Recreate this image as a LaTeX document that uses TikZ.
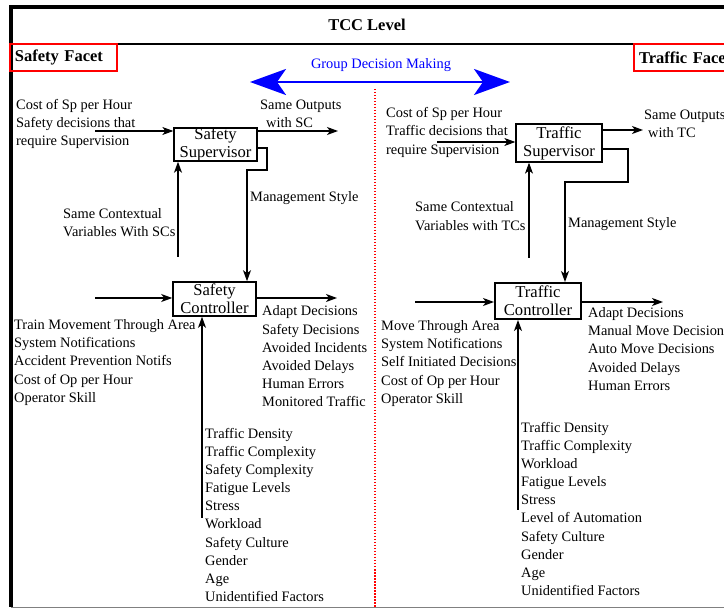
\documentclass[tikz,border=0pt]{standalone}
\usepackage{fontspec}
\setmainfont{Liberation Serif}
\usetikzlibrary{arrows.meta,calc}
\tikzset{
  body/.style={font=\fontsize{14.4}{18}\selectfont, inner sep=0pt, anchor=base west},
  unit/.style={draw, line width=1.3pt, font=\fontsize{16.6}{18}\selectfont, align=center, inner sep=0pt},
  flow/.style={line width=1.1pt, -{Stealth[length=11pt,width=8pt,inset=3pt]}},
  facet/.style={draw=red, line width=2pt, font=\fontsize{16.5}{18}\selectfont\bfseries,
    anchor=west, minimum height=27pt, inner xsep=5pt, inner ysep=0pt, text width=97pt, align=left},
}
\begin{document}
\begin{tikzpicture}[x=1pt,y=-1pt]
\useasboundingbox (0,0) rectangle (724,609);
\clip (0,0) rectangle (724,609);

% frame and title band
\draw[line width=3.5pt] (9,7) -- (740,7);
\draw[line width=4pt] (11,5.25) -- (11,607);
\draw[line width=2pt] (11,44) -- (740,44);
\draw[gray, line width=1pt] (11,607.5) -- (740,607.5);
\node[font=\fontsize{16.5}{18}\selectfont\bfseries, inner sep=0pt] (title) at (367,25) {TCC Level};

% facet labels
\node[facet] (sfacet) at (9,57.5) {Safety Facet};
\node[facet] (tfacet) at (633,57.5) {Traffic Facet};

% group decision making
\coordinate (gl) at (250,82);
\coordinate (gr) at (510,82);
\draw[blue, line width=2.6pt, {Stealth[length=36pt,width=26pt,inset=9pt]}-{Stealth[length=36pt,width=26pt,inset=9pt]}] (gl) -- (gr);
\node[blue, font=\fontsize{14.4}{18}\selectfont, inner sep=0pt] (gdm) at (381,65) {Group Decision Making};

% divider between facets
\coordinate (dtop) at (375,89);
\coordinate (dbot) at (375,607);
\draw[red, line width=1.5pt, dash pattern=on 1.5pt off 1.5pt] (dtop) -- (dbot);

% ---------------- safety facet ----------------
\node[unit, minimum width=83pt, minimum height=33pt] (ss) at (215.5,144.5) {Safety\\Supervisor};
\node[unit, line width=1.6pt, minimum width=83pt, minimum height=34pt] (sc) at (214.5,299) {Safety\\Controller};

\foreach \t [count=\i] in {Cost of Sp per Hour, Safety decisions that, require Supervision}
  \node[body] (ssin\i) at (16,{109.5+(\i-1)*18}) {\t};
\node[body] (ssout1) at (260,109.5) {Same Outputs};
\node[body] (ssout2) at (266,127.5) {with SC};
\node[body] (sctx1) at (63,218.5) {Same Contextual};
\node[body] (sctx2) at (63,236.5) {Variables With SCs};
\node[body] (sms) at (250,201.5) {Management Style};

\foreach \t [count=\i] in {Train Movement Through Area, System Notifications, Accident Prevention Notifs, Cost of Op per Hour, Operator Skill}
  \node[body] (scin\i) at (14,{329.5+(\i-1)*18.2}) {\t};
\foreach \t [count=\i] in {Adapt Decisions, Safety Decisions, Avoided Incidents, Avoided Delays, Human Errors, Monitored Traffic}
  \node[body] (scout\i) at (262,{316+(\i-1)*18.2}) {\t};
\foreach \t [count=\i] in {Traffic Density, Traffic Complexity, Safety Complexity, Fatigue Levels, Stress, Workload, Safety Culture, Gender, Age, Unidentified Factors}
  \node[body] (scf\i) at (205,{438.5+(\i-1)*18.1}) {\t};

\coordinate (ssa) at (95,131);
\coordinate (ssb) at (338,131);
\coordinate (ms1) at (267,170);
\coordinate (ms2) at (247,170);
\coordinate (sctxa) at (178,257);
\coordinate (sca) at (95,298);
\coordinate (scb) at (337,298);
\coordinate (scfa) at (202,518);
\draw[flow] (ssa) -- (ssa -| ss.west);
\draw[flow] (ss.east |- ssb) -- (ssb);
\draw[flow] ([yshift=-3.5pt]ss.east) -| (ms1) -- (ms2) -- (ms2 |- sc.north);
\draw[flow] (sctxa) -- (sctxa |- ss.south);
\draw[flow] (sca) -- (sca -| sc.west);
\draw[flow] (sc.east |- scb) -- (scb);
\draw[flow] (scfa) -- (scfa |- sc.south);

% ---------------- traffic facet ----------------
\node[unit, minimum width=86pt, minimum height=38pt] (ts) at (559,143) {Traffic\\Supervisor};
\node[unit, line width=2pt, minimum width=86pt, minimum height=36pt] (tc) at (538,301) {Traffic\\Controller};

\foreach \t [count=\i] in {Cost of Sp per Hour, Traffic decisions that, require Supervision}
  \node[body] (tsin\i) at (386,{117.5+(\i-1)*18.3}) {\t};
\node[body] (tsout1) at (644,119.5) {Same Outputs};
\node[body] (tsout2) at (648,137.5) {with TC};
\node[body] (tctx1) at (415,211.5) {Same Contextual};
\node[body] (tctx2) at (415,230.5) {Variables with TCs};
\node[body] (tms) at (568,227.5) {Management Style};

\foreach \t [count=\i] in {Move Through Area, System Notifications, Self Initiated Decisions, Cost of Op per Hour, Operator Skill}
  \node[body] (tcin\i) at (381,{330.5+(\i-1)*18.2}) {\t};
\foreach \t [count=\i] in {Adapt Decisions, Manual Move Decisions, Auto Move Decisions, Avoided Delays, Human Errors}
  \node[body] (tcout\i) at (588,{317.5+(\i-1)*18.2}) {\t};
\foreach \t [count=\i] in {Traffic Density, Traffic Complexity, Workload, Fatigue Levels, Stress, Level of Automation, Safety Culture, Gender, Age, Unidentified Factors}
  \node[body] (tcf\i) at (521,{432.5+(\i-1)*18.1}) {\t};

\coordinate (tsa) at (437,142);
\coordinate (tsb) at (643,130);
\coordinate (mt1) at (628,182);
\coordinate (mt2) at (565,182);
\coordinate (tctxa) at (529,258);
\coordinate (tca) at (415,302);
\coordinate (tcb) at (663,302);
\coordinate (tcfa) at (518,510);
\draw[flow] (tsa) -- (tsa -| ts.west);
\draw[flow] (ts.east |- tsb) -- (tsb);
\draw[flow] ([yshift=-6pt]ts.east) -| (mt1) -- (mt2) -- (mt2 |- tc.north);
\draw[flow] (tctxa) -- (tctxa |- ts.south);
\draw[flow] (tca) -- (tca -| tc.west);
\draw[flow] (tc.east |- tcb) -- (tcb);
\draw[flow] (tcfa) -- (tcfa |- tc.south);
\end{tikzpicture}
\end{document}
